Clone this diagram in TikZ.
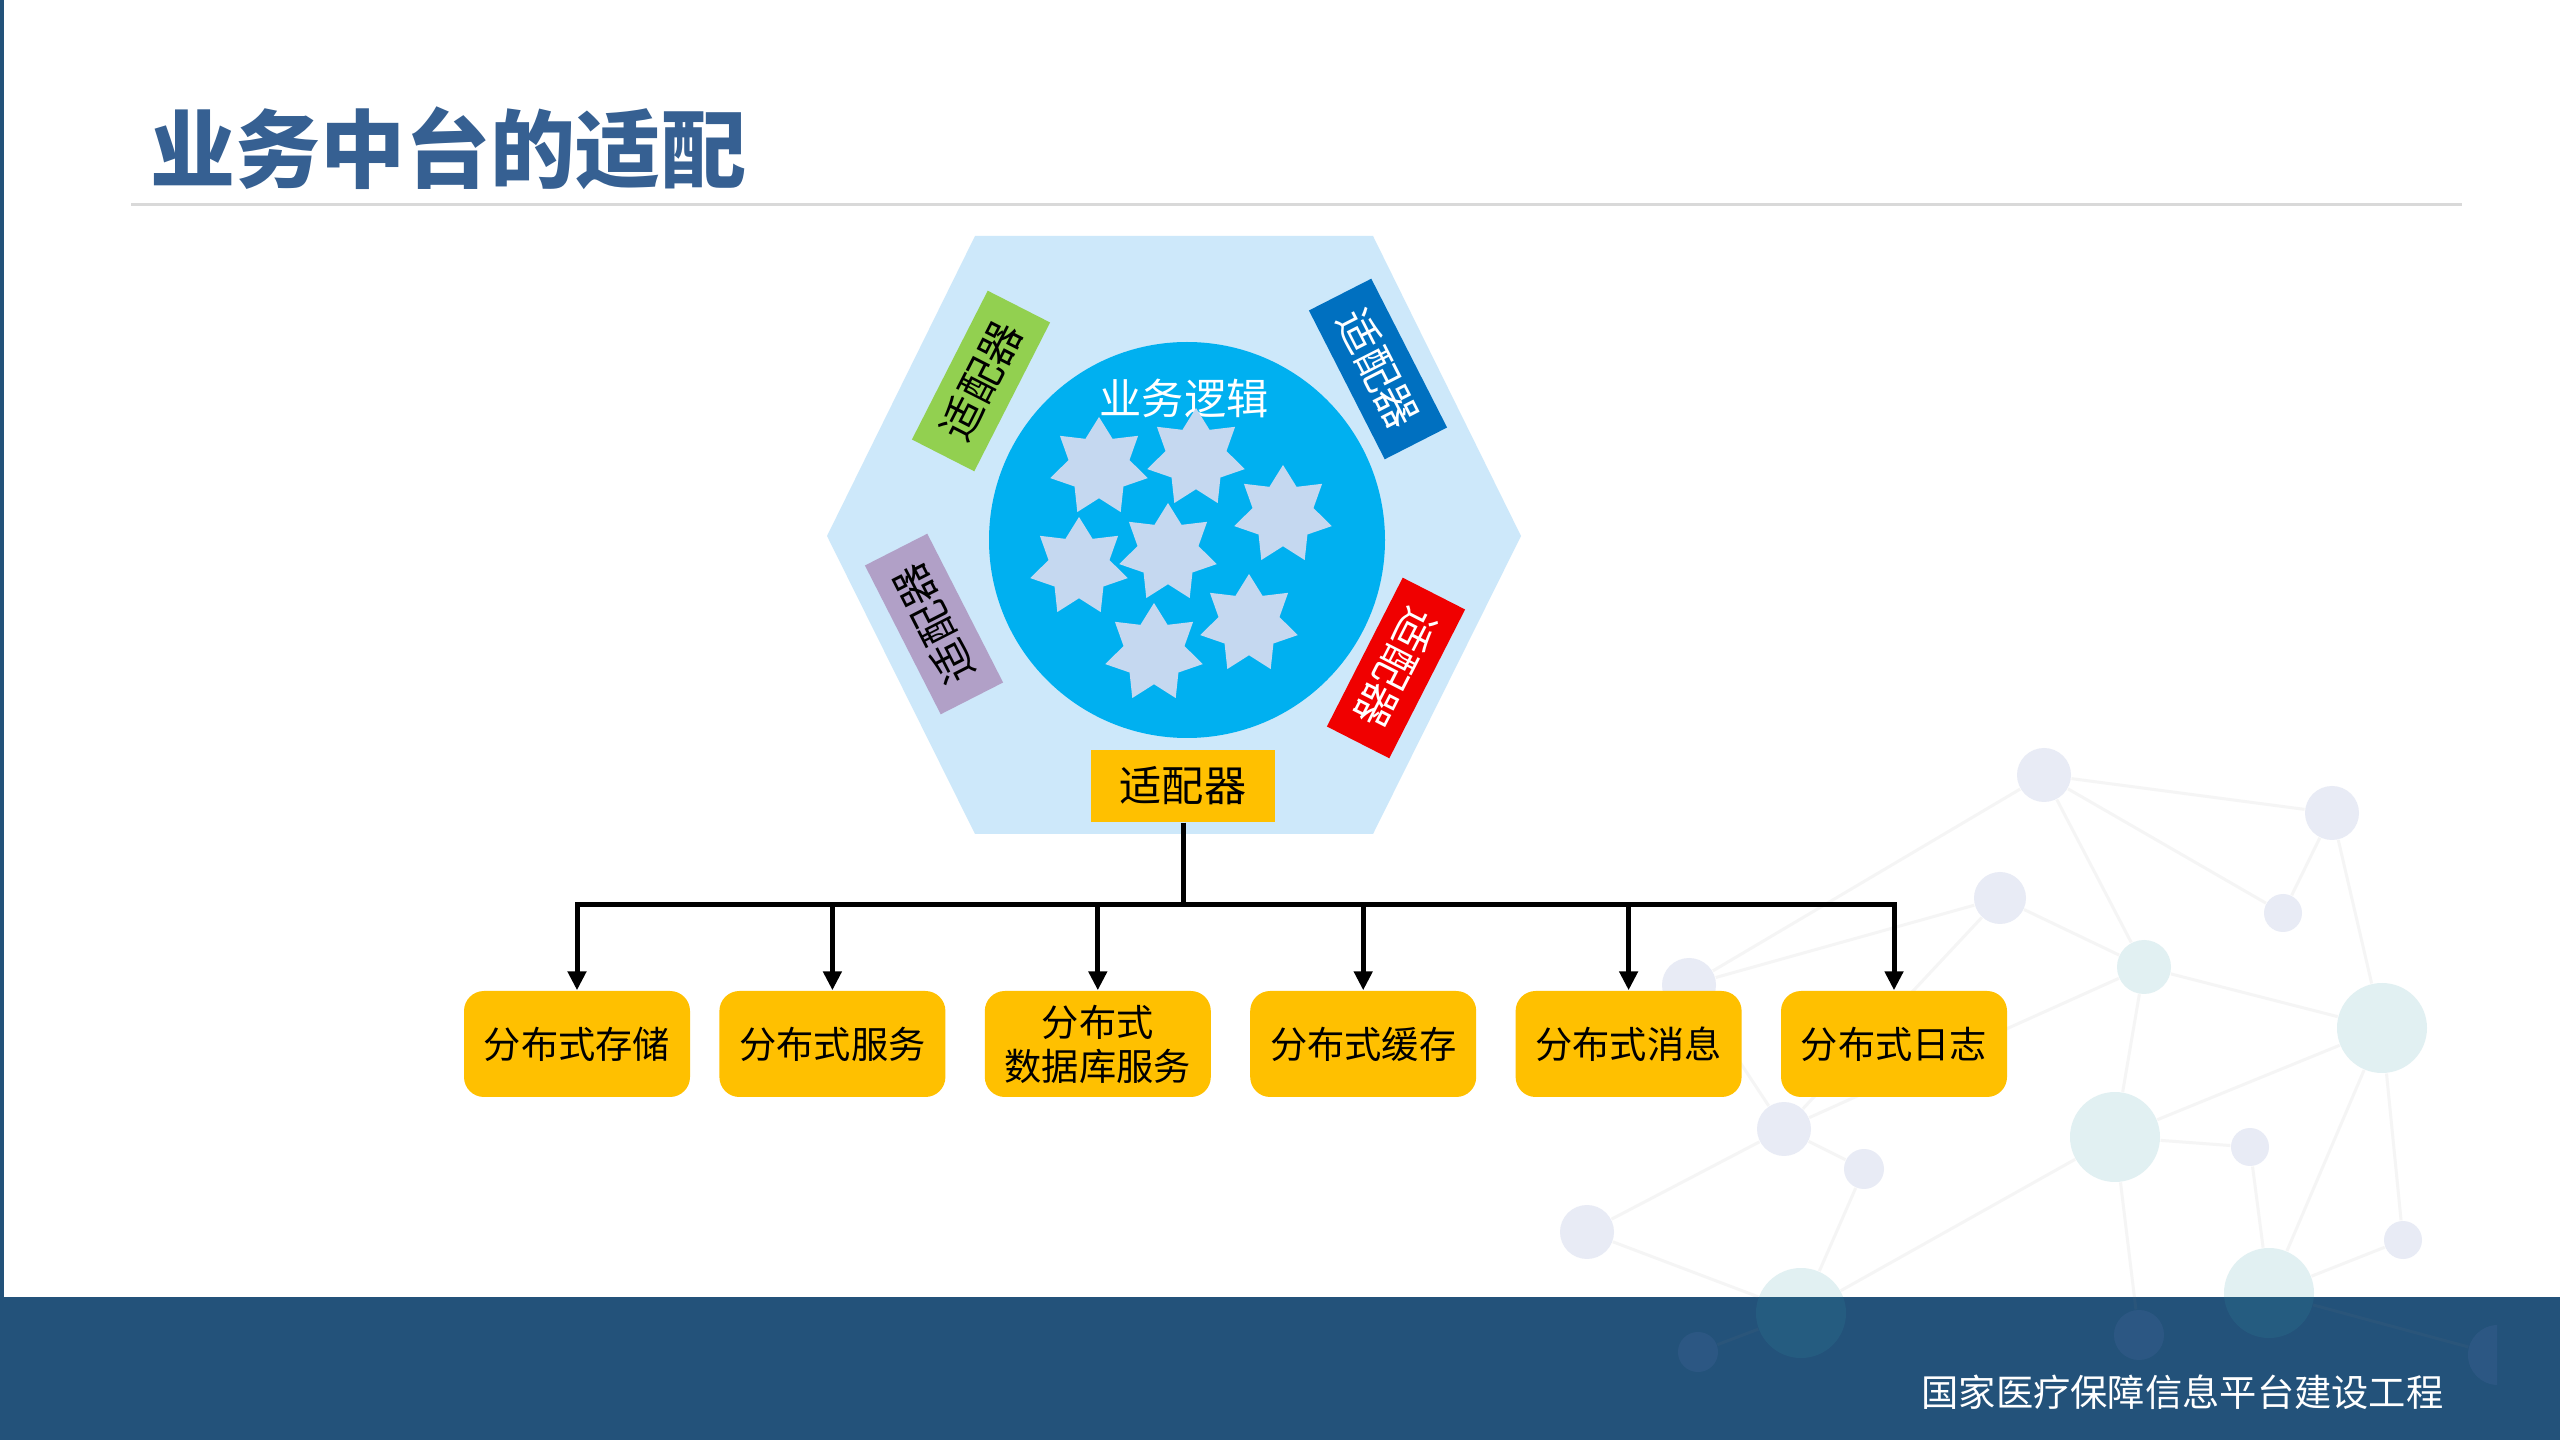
\documentclass[tikz,border=0pt]{standalone}
\usepackage{fontspec}
\setmainfont{Noto Sans CJK SC}
\usepackage{xcolor}
\definecolor{navy}{RGB}{35,82,122}
\definecolor{titleblue}{RGB}{54,96,146}
\definecolor{hexblue}{RGB}{205,232,250}
\definecolor{corecyan}{RGB}{0,176,240}
\definecolor{starblue}{RGB}{197,216,240}
\definecolor{adpgreen}{RGB}{146,208,80}
\definecolor{adpblue}{RGB}{0,112,192}
\definecolor{adppurple}{RGB}{177,160,199}
\definecolor{adpred}{RGB}{240,0,0}
\definecolor{amber}{RGB}{255,192,0}
\definecolor{netlav}{RGB}{102,122,188}
\definecolor{netteal}{RGB}{55,155,168}
\usetikzlibrary{arrows.meta, positioning, shapes.geometric}

\begin{document}
\begin{tikzpicture}[
  x=0.1mm, y=-0.1mm,
  node distance = 3.8mm,
  svc/.style   = {rectangle, rounded corners=2mm, fill=amber, minimum width=22.6mm,
                  minimum height=10.6mm, inner sep=0pt, align=center,
                  font=\fontsize{10.6pt}{12.5pt}\selectfont},
  adp/.style   = {rectangle, minimum width=16.7mm, minimum height=7mm, inner sep=0pt,
                  font=\fontsize{12pt}{14pt}\selectfont},
  petal/.style = {star, star points=7, star point ratio=1.6, minimum size=10mm,
                  inner sep=0pt, fill=starblue},
  dot/.style   = {circle, inner sep=0pt, fill opacity=0.15},
  web/.style   = {draw=gray, line width=0.3mm, draw opacity=0.08},
  wire/.style  = {line width=0.5mm, black},
  arr/.style   = {-{Triangle[length=1.9mm, width=1.8mm]}, line width=0.5mm, black},
]
\useasboundingbox (0,0) rectangle (2560,1440);
\fill[white] (0,0) rectangle (2560,1440);
\fill[navy] (0,1297) rectangle (2560,1440);
\fill[navy] (0,0) rectangle (4,1297);

% background network
\begin{scope}
  \clip (1400,650) rectangle (2497,1440);
  \foreach \n/\x/\y/\r/\c in {a/2044/775/27/netlav, b/2332/813/27/netlav,
      c/2000/898/26/netlav, d/2283/913/19/netlav, e/2144/967/27/netteal,
      f/2382/1028/45/netteal, g/2115/1137/45/netteal, h/1689/985/27/netlav,
      i/1784/1129/27/netlav, j/1864/1169/20/netlav, k/2250/1147/19/netlav,
      m/1587/1232/27/netlav, n/1801/1313/45/netteal, o/2269/1293/45/netteal,
      p/2403/1240/19/netlav, q/2139/1335/25/netlav, r/1698/1352/20/netlav,
      s/2498/1355/30/netlav}
    \node[dot, fill=\c, minimum size=\r*0.2mm] (w\n) at (\x,\y) {};
  \foreach \p/\q in {a/b, a/d, a/e, a/h, b/d, b/f, c/e, c/h, c/i, e/f, e/g, e/i,
      f/g, f/o, f/p, g/k, g/n, g/q, k/o, o/p, h/i, i/j, i/m, m/n, j/n, n/r, o/s}
    \draw[web] (w\p) -- (w\q);
\end{scope}

% title
\node[anchor=west, inner sep=0pt, text=titleblue,
      font=\fontsize{24.2pt}{29pt}\selectfont\bfseries] (title) at (150,148) {业务中台的适配};
\draw[line width=0.3mm, black!15] (131,205) -- (2462,205);

% hexagon with core
\fill[hexblue] (975,236) -- (1373,236) -- (1521,536) -- (1373,834)
  -- (975,834) -- (827,536) -- cycle;
\node[circle, fill=corecyan, minimum size=39.6mm, inner sep=0pt] (core) at (1187,540) {};
\node[text=white, inner sep=0pt, font=\fontsize{12pt}{14pt}\selectfont] (logic) at (1184,398) {业务逻辑};
\node[petal] (p1) at (1099,467) {};
\node[petal] (p2) at (1196,458) {};
\node[petal] (p3) at (1283,515) {};
\node[petal] (p4) at (1079,567) {};
\node[petal] (p5) at (1168,553) {};
\node[petal] (p6) at (1249,624) {};
\node[petal] (p7) at (1154,653) {};

% adapters
\node[adp, fill=adpgreen, rotate=63] (adpNW) at (981,381) {适配器};
\node[adp, fill=adpblue, text=white, rotate=-63] (adpNE) at (1378,369) {适配器};
\node[adp, fill=adppurple, rotate=117] (adpSW) at (934,624) {适配器};
\node[adp, fill=adpred, text=white, rotate=-117] (adpSE) at (1396,668) {适配器};
\node[adp, fill=amber, minimum width=18.4mm, minimum height=7.2mm] (adpS) at (1183,786) {适配器};

% distributed services
\node[svc] (s1) at (577,1044) {分布式存储};
\node[svc, right=2.8mm of s1] (s2) {分布式服务};
\node[svc, right=of s2] (s3) {分布式\\数据库服务};
\node[svc, right=of s3] (s4) {分布式缓存};
\node[svc, right=of s4] (s5) {分布式消息};
\node[svc, right=of s5] (s6) {分布式日志};

\coordinate (hub) at (1183,905);
\draw[wire] (adpS) -- (hub);
\foreach \s in {s1,s2,s3,s4,s5,s6}
  \draw[arr] (hub) -| (\s.north);

% footer
\node[anchor=west, inner sep=0pt, text=white,
      font=\fontsize{10.6pt}{12pt}\selectfont] (footer) at (1921,1392) {国家医疗保障信息平台建设工程};
\end{tikzpicture}
\end{document}
